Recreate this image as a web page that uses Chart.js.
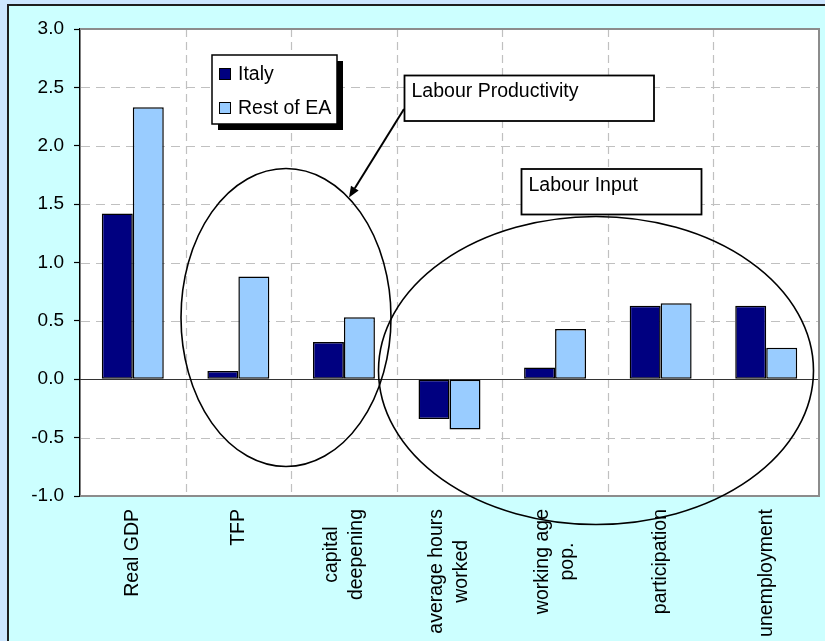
<!DOCTYPE html>
<html>
<head>
<meta charset="utf-8">
<script src="https://cdn.jsdelivr.net/npm/chart.js@4.4.0/dist/chart.umd.min.js"></script>
<style>
  html, body { margin: 0; padding: 0; background: #CCE6FF; overflow: hidden; }
  #c { position: absolute; left: 0; top: 0; }
</style>
</head>
<body>
<canvas id="c" width="825" height="641"></canvas>
<script>
// Growth components, average annual % change
const categories = [
  ['Real GDP'],
  ['TFP'],
  ['capital', 'deepening'],
  ['average hours', 'worked'],
  ['working age', 'pop.'],
  ['participation'],
  ['unemployment']
];
const seriesNames = ['Italy', 'Rest of EA'];
const italy    = [1.42, 0.07, 0.32, -0.34, 0.10, 0.63, 0.63];
const restOfEA = [2.33, 0.88, 0.53, -0.43, 0.43, 0.65, 0.27];
const yMin = -1.0, yMax = 3.0, yStep = 0.5;
const noteTexts = ['Labour Productivity', 'Labour Input'];

const FONT = '"Liberation Sans", Arial, sans-serif';
const COLORS = { italy: '#000080', rest: '#99CCFF' };

// Page furniture: panel, plot background, grid
const backdrop = {
  id: 'backdrop',
  beforeDraw(chart) {
    const { ctx, chartArea: a, width, height } = chart;
    ctx.save();
    ctx.fillStyle = '#CCE6FF';
    ctx.fillRect(0, 0, width, height);
    ctx.fillStyle = '#CCFFFF';
    ctx.fillRect(8, 6, width, height);
    ctx.strokeStyle = '#1E1E1E';
    ctx.lineWidth = 2;
    ctx.beginPath();
    ctx.moveTo(8, height + 2); ctx.lineTo(8, 5); ctx.lineTo(width + 2, 5);
    ctx.stroke();
    ctx.fillStyle = '#FFFFFF';
    ctx.fillRect(a.left, a.top, a.right - a.left, a.bottom - a.top);
    ctx.restore();
  },
  beforeDatasetsDraw(chart) {
    const { ctx, chartArea: a, scales } = chart;
    const x = scales.x, y = scales.y;
    ctx.save();
    ctx.strokeStyle = '#C0C0C0';
    ctx.lineWidth = 1.2;
    ctx.setLineDash([9, 6]);
    for (let v = yMin + yStep; v < yMax - 1e-9; v += yStep) {
      if (Math.abs(v) < 1e-9) continue;
      const py = Math.round(y.getPixelForValue(v)) + 0.5;
      ctx.beginPath(); ctx.moveTo(a.left + 1, py); ctx.lineTo(a.right, py); ctx.stroke();
    }
    ctx.setLineDash([8, 5]);
    for (let i = 0; i < categories.length - 1; i++) {
      const px = Math.round(x.getPixelForValue(i + 0.5)) + 0.5;
      ctx.beginPath(); ctx.moveTo(px, a.top); ctx.lineTo(px, a.bottom); ctx.stroke();
    }
    ctx.setLineDash([]);
    // zero line
    const zy = Math.round(y.getPixelForValue(0)) + 0.5;
    ctx.strokeStyle = '#333333';
    ctx.lineWidth = 1;
    ctx.beginPath(); ctx.moveTo(a.left, zy); ctx.lineTo(a.right, zy); ctx.stroke();
    // plot frame (top, right, bottom)
    ctx.strokeStyle = '#8C8C8C';
    ctx.lineWidth = 2;
    ctx.beginPath();
    ctx.moveTo(a.left, a.top); ctx.lineTo(a.right, a.top);
    ctx.lineTo(a.right, a.bottom); ctx.lineTo(a.left, a.bottom);
    ctx.stroke();
    ctx.restore();
  }
};

// Vertical category labels, lines centred on each other
const categoryLabels = {
  id: 'categoryLabels',
  afterDatasetsDraw(chart) {
    const { ctx, chartArea: a, scales } = chart;
    const lineHeight = 25;
    const top = a.bottom + 13;
    ctx.save();
    ctx.font = '19.5px ' + FONT;
    ctx.fillStyle = '#000000';
    ctx.textAlign = 'center';
    ctx.textBaseline = 'middle';
    categories.forEach((lines, i) => {
      const cx = scales.x.getPixelForValue(i);
      const w = Math.max(...lines.map(l => ctx.measureText(l).width));
      ctx.save();
      ctx.translate(cx, top + w / 2);
      ctx.rotate(-Math.PI / 2);
      lines.forEach((l, k) => ctx.fillText(l, 0, (k - (lines.length - 1) / 2) * lineHeight));
      ctx.restore();
    });
    ctx.restore();
  }
};

// Legend box and callouts drawn over the plot
const layout = {
  legend: { x: 212, y: 55, w: 125, h: 69, shadow: 6 },
  boxes: [
    { x: 404.5, y: 75.5, w: 249.5, h: 45.5, tx: 411.5, ty: 97 },
    { x: 521.5, y: 169, w: 180, h: 45.5, tx: 528.5, ty: 191 }
  ],
  arrow: { x1: 404, y1: 109, x2: 349, y2: 197.5 },
  ellipses: [
    { cx: 286, cy: 317.5, rx: 105, ry: 149 },
    { cx: 596, cy: 370.5, rx: 217.5, ry: 154 }
  ]
};

const callouts = {
  id: 'callouts',
  afterDraw(chart) {
    const { ctx } = chart;
    ctx.save();
    ctx.lineJoin = 'miter';
    // ellipses
    ctx.strokeStyle = '#000';
    ctx.lineWidth = 1.6;
    layout.ellipses.forEach(e => {
      ctx.beginPath();
      ctx.ellipse(e.cx, e.cy, e.rx, e.ry, 0, 0, Math.PI * 2);
      ctx.stroke();
    });
    // text boxes
    ctx.font = '19.5px ' + FONT;
    ctx.textAlign = 'left';
    ctx.textBaseline = 'alphabetic';
    layout.boxes.forEach((b, i) => {
      ctx.fillStyle = '#FFFFFF';
      ctx.fillRect(b.x, b.y, b.w, b.h);
      ctx.lineWidth = 1.8;
      ctx.strokeStyle = '#000';
      ctx.strokeRect(b.x, b.y, b.w, b.h);
      ctx.fillStyle = '#000';
      ctx.fillText(noteTexts[i], b.tx, b.ty);
    });
    // arrow
    const ar = layout.arrow;
    const ang = Math.atan2(ar.y2 - ar.y1, ar.x2 - ar.x1);
    const hl = 11, hw = 4.5;
    const bx = ar.x2 - hl * Math.cos(ang), by = ar.y2 - hl * Math.sin(ang);
    ctx.lineWidth = 2;
    ctx.beginPath(); ctx.moveTo(ar.x1, ar.y1); ctx.lineTo(bx, by); ctx.stroke();
    ctx.fillStyle = '#000';
    ctx.beginPath();
    ctx.moveTo(ar.x2, ar.y2);
    ctx.lineTo(bx + hw * Math.sin(ang), by - hw * Math.cos(ang));
    ctx.lineTo(bx - hw * Math.sin(ang), by + hw * Math.cos(ang));
    ctx.closePath(); ctx.fill();
    // legend
    const L = layout.legend;
    ctx.fillStyle = '#000';
    ctx.fillRect(L.x + L.shadow, L.y + L.shadow, L.w, L.h);
    ctx.fillStyle = '#FFFFFF';
    ctx.fillRect(L.x, L.y, L.w, L.h);
    ctx.lineWidth = 1.5;
    ctx.strokeRect(L.x, L.y, L.w, L.h);
    chart.data.datasets.forEach((ds, i) => {
      const sy = L.y + 13 + i * 34;
      ctx.fillStyle = ds.backgroundColor;
      ctx.fillRect(L.x + 7, sy, 12, 12);
      ctx.lineWidth = 1;
      ctx.strokeStyle = '#000';
      ctx.strokeRect(L.x + 7.5, sy + 0.5, 11, 11);
      ctx.fillStyle = '#000';
      ctx.fillText(ds.label, L.x + 26, sy + 11.5);
    });
    ctx.restore();
  }
};

new Chart(document.getElementById('c'), {
  type: 'bar',
  data: {
    labels: categories,
    datasets: [
      { label: seriesNames[0], data: italy, backgroundColor: COLORS.italy },
      { label: seriesNames[1], data: restOfEA, backgroundColor: COLORS.rest }
    ]
  },
  options: {
    responsive: false,
    animation: false,
    devicePixelRatio: 1,
    layout: { padding: { top: 29, right: 6, bottom: 0, left: 0 } },
    datasets: {
      bar: {
        borderColor: '#000000',
        borderWidth: 1.5,
        borderSkipped: false,
        barPercentage: 1.0,
        categoryPercentage: 0.587
      }
    },
    plugins: {
      legend: { display: false },
      tooltip: { enabled: false },
      title: { display: false }
    },
    scales: {
      x: {
        grid: { display: false },
        border: { display: false },
        ticks: { display: false },
        afterFit(scale) { scale.height = 145; }
      },
      y: {
        min: yMin,
        max: yMax,
        ticks: {
          stepSize: yStep,
          color: '#000000',
          padding: 10,
          font: { family: FONT, size: 19 },
          callback: v => Number(v).toFixed(1)
        },
        grid: {
          drawOnChartArea: false,
          drawTicks: true,
          tickLength: 6,
          tickColor: '#000000',
          tickWidth: 1.2
        },
        border: { display: true, color: '#000000', width: 1.5 },
        afterFit(scale) { scale.width = 80; }
      }
    }
  },
  plugins: [backdrop, categoryLabels, callouts]
});
</script>
</body>
</html>
